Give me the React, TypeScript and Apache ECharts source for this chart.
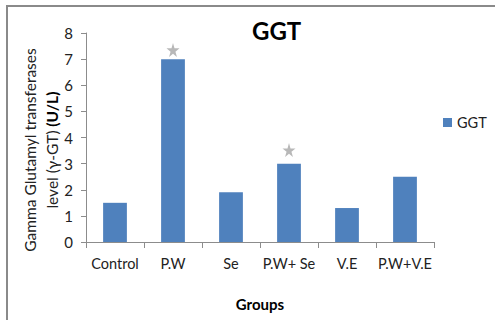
import React, { useEffect, useRef } from "react";
import * as echarts from "echarts";

const categories = ["Control", "P.W", "Se", "P.W+ Se", "V.E", "P.W+V.E"];
const ggtValues = [1.5, 7.0, 1.9, 3.0, 1.3, 2.5];
const starValues: (number | string)[] = ["-", 7.35, "-", 3.52, "-", "-"];
const yTicks = { min: 0, max: 8, interval: 1 };

const STAR =
  "path://M50,0 L61,35 L98,35 L68,57 L79,91 L50,70 L21,91 L32,57 L2,35 L39,35 Z";

const FONT = "Lato, 'Open Sans', sans-serif";

export default function App() {
  const ref = useRef<HTMLDivElement>(null);
  useEffect(() => {
    const chart = echarts.init(ref.current!, null, { renderer: "svg" });
    chart.setOption({
      animation: false,
      backgroundColor: "#ffffff",
      textStyle: { fontFamily: FONT },
      title: {
        text: "GGT",
        left: 247,
        top: 13,
        textStyle: { fontSize: 24, fontWeight: "bold", color: "#000", fontFamily: FONT },
      },
      legend: {
        data: ["GGT"],
        left: 438,
        top: 110,
        itemWidth: 9,
        itemHeight: 9,
        icon: "rect",
        textStyle: { fontSize: 14.5, color: "#222", fontFamily: FONT },
      },
      grid: { left: 86, right: 61, top: 33, bottom: 78, containLabel: false },
      xAxis: {
        type: "category",
        data: categories,
        name: "Groups",
        nameLocation: "middle",
        nameGap: 54,
        nameTextStyle: { fontSize: 15, fontWeight: "bold", color: "#000", fontFamily: FONT },
        axisLine: { lineStyle: { color: "#8c8c8c", width: 1 } },
        axisTick: { show: true, length: 6, alignWithLabel: false, lineStyle: { color: "#8c8c8c" } },
        axisLabel: { fontSize: 14.5, color: "#222", margin: 14, fontFamily: FONT, interval: 0 },
      },
      yAxis: {
        type: "value",
        min: yTicks.min,
        max: yTicks.max,
        interval: yTicks.interval,
        axisLine: { show: true, lineStyle: { color: "#8c8c8c", width: 1 } },
        axisTick: { show: true, length: 5, lineStyle: { color: "#8c8c8c" } },
        axisLabel: { fontSize: 15, color: "#222", margin: 13, fontFamily: FONT },
        splitLine: { show: false },
      },
      graphic: [
        {
          type: "polyline",
          shape: { points: [[7, 330], [7, 6], [500, 6]] },
          style: { stroke: "#8a8a8a", lineWidth: 2, fill: "none" },
          silent: true,
        },
        {
          type: "text",
          x: 41,
          y: 150,
          rotation: Math.PI / 2,
          style: {
            text: "{a|Gamma Glutamyl transferases}\n{a|level (γ-GT) }{b|(U/L)}",
            align: "center",
            verticalAlign: "middle",
            rich: {
              a: { fontSize: 15.5, fontFamily: FONT, fill: "#222", lineHeight: 22 },
              b: { fontSize: 15.5, fontFamily: FONT, fontWeight: "bold", fill: "#000", lineHeight: 22 },
            },
          },
          silent: true,
        },
      ],
      series: [
        {
          name: "GGT",
          type: "bar",
          data: ggtValues,
          barWidth: "41%",
          itemStyle: { color: "#4f81bd" },
        },
        {
          name: "sig",
          type: "scatter",
          data: starValues,
          symbol: STAR,
          symbolSize: [13, 14],
          itemStyle: { color: "#a6a6a6" },
        },
      ],
    });
    return () => chart.dispose();
  }, []);
  return (
    <div
      ref={ref}
      style={{ position: "fixed", left: 0, top: 0, width: 495, height: 320 }}
    />
  );
}
